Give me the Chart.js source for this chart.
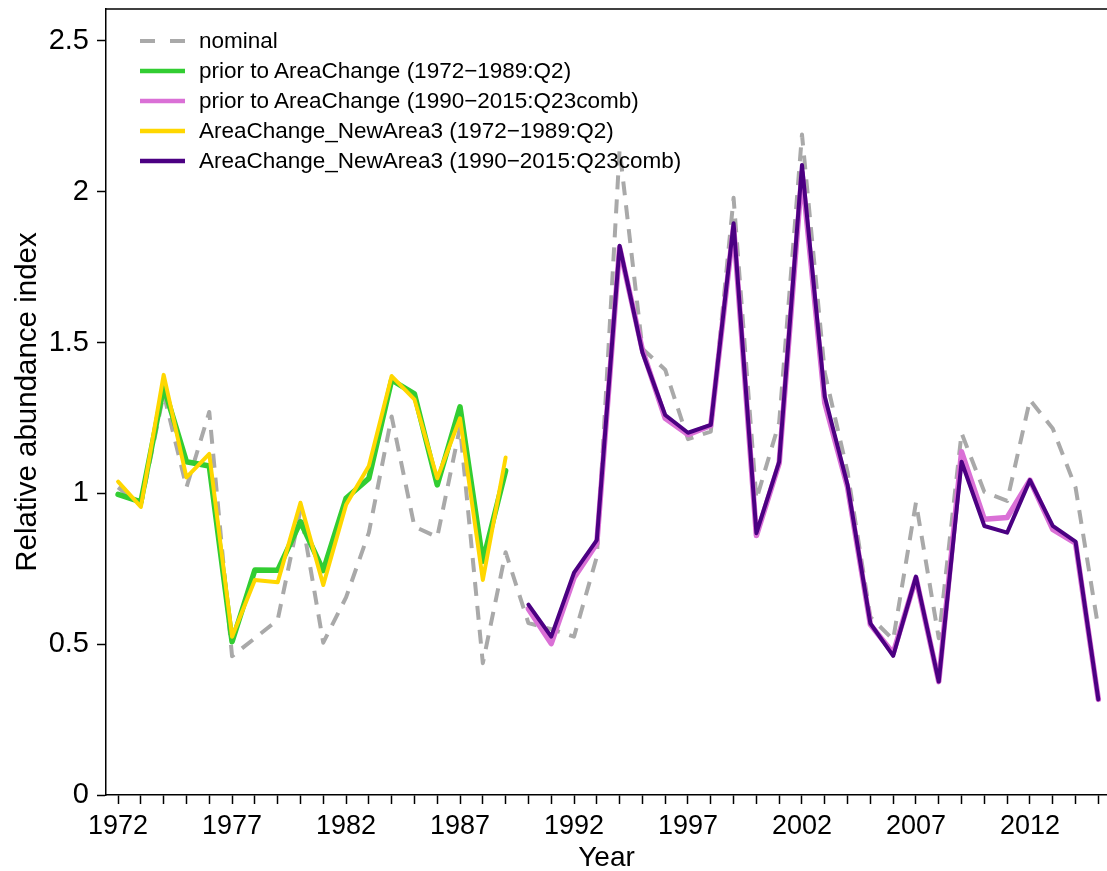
<!DOCTYPE html>
<html>
<head>
<meta charset="utf-8">
<script src="https://cdn.jsdelivr.net/npm/chart.js@4/dist/chart.umd.min.js"></script>
<style>
  html, body { margin: 0; padding: 0; background: #fff; overflow: hidden; }
  #wrap { position: relative; width: 1107px; height: 871px; overflow: hidden; }
  #legend { position: absolute; left: 138px; top: 26px; font-family: 'Liberation Sans', Arial, Helvetica, sans-serif; font-size: 22.5px; color: #000; }
  .row { position: absolute; left: 0; height: 30px; white-space: nowrap; }
  .row svg { position: absolute; left: 0; top: 0; }
  .row span { position: absolute; left: 61px; top: 1px; line-height: 28px; }
</style>
</head>
<body>
<div id="wrap">
  <canvas id="c" width="1107" height="871"></canvas>
  <div id="legend"></div>
</div>
<script>
// ---- data ----
const YEARS = [1972,1973,1974,1975,1976,1977,1978,1979,1980,1981,1982,1983,1984,1985,1986,1987,1988,1989,
               1990,1991,1992,1993,1994,1995,1996,1997,1998,1999,2000,2001,2002,2003,2004,2005,2006,2007,2008,2009,2010,2011,2012,2013,2014,2015];
const YEARS_EARLY = YEARS.slice(0, 18);   // 1972-1989
const YEARS_LATE = YEARS.slice(18);       // 1990-2015

const nominal = [1.02,0.96,1.33,1.02,1.27,0.46,0.52,0.58,0.945,0.505,0.655,0.87,1.255,0.89,0.855,1.22,0.437,0.805,
                 0.57,0.55,0.525,0.79,2.14,1.48,1.41,1.18,1.205,1.98,0.98,1.235,2.19,1.40,1.07,0.59,0.515,0.97,0.52,1.20,1.005,0.975,1.31,1.215,1.02,0.553];
const priorEarly = [0.997,0.972,1.354,1.105,1.091,0.508,0.746,0.745,0.906,0.744,0.984,1.05,1.376,1.33,1.028,1.287,0.775,1.075];
const priorLate = [0.617,0.502,0.72,0.834,1.815,1.475,1.249,1.195,1.225,1.885,0.86,1.10,2.065,1.30,1.02,0.565,0.47,0.72,0.376,1.138,0.914,0.92,1.044,0.881,0.835,0.317];
const newEarly = [1.039,0.955,1.393,1.053,1.131,0.525,0.713,0.705,0.969,0.696,0.962,1.091,1.389,1.312,1.05,1.249,0.713,1.119];
const newLate = [0.631,0.525,0.737,0.845,1.821,1.467,1.26,1.201,1.227,1.896,0.868,1.105,2.089,1.321,1.028,0.569,0.461,0.724,0.376,1.105,0.892,0.870,1.044,0.892,0.840,0.317];

const X_TICKS = YEARS;
const X_LABELS = [1972,1977,1982,1987,1992,1997,2002,2007,2012];
const Y_TICKS = [0,0.5,1,1.5,2,2.5];

const LABELS = ['nominal',
  'prior to AreaChange (1972\u22121989:Q2)',
  'prior to AreaChange (1990\u22122015:Q23comb)',
  'AreaChange_NewArea3 (1972\u22121989:Q2)',
  'AreaChange_NewArea3 (1990\u22122015:Q23comb)'];

const FONT = "'Liberation Sans', Arial, Helvetica, sans-serif";
const pts = (xs, ys) => xs.map((x, i) => ({x: x, y: ys[i]}));

const datasets = [
  {label: LABELS[0], data: pts(YEARS, nominal), borderColor: '#A9A9A9', borderWidth: 4, borderDash: [14, 10], borderCapStyle: 'butt', order: 5},
  {label: LABELS[1], data: pts(YEARS_EARLY, priorEarly), borderColor: '#32CD32', borderWidth: 5.5, order: 4},
  {label: LABELS[2], data: pts(YEARS_LATE, priorLate), borderColor: '#DA70D6', borderWidth: 5.5, order: 3},
  {label: LABELS[3], data: pts(YEARS_EARLY, newEarly), borderColor: '#FFD700', borderWidth: 4, order: 2},
  {label: LABELS[4], data: pts(YEARS_LATE, newLate), borderColor: '#4B0082', borderWidth: 4, order: 1}
];
datasets.forEach(d => { d.pointRadius = 0; d.tension = 0; d.fill = false; d.borderJoinStyle = 'round'; if (!d.borderDash) d.borderCapStyle = 'round'; });

const frame = {
  id: 'frame',
  afterDraw(chart) {
    const {ctx, chartArea: a} = chart;
    ctx.save();
    ctx.strokeStyle = '#000';
    ctx.lineWidth = 1.5;
    ctx.beginPath();
    ctx.moveTo(a.left, a.top);
    ctx.lineTo(a.right + 5, a.top);
    ctx.stroke();
    ctx.restore();
  }
};

Chart.defaults.color = '#000';
const chart = new Chart(document.getElementById('c'), {
  type: 'line',
  data: {datasets: datasets},
  plugins: [frame],
  options: {
    responsive: false,
    animation: false,
    devicePixelRatio: 1,
    layout: {padding: {left: 0, right: 0, top: 9, bottom: 0}},
    plugins: {legend: {display: false}, tooltip: {enabled: false}},
    scales: {
      x: {
        type: 'linear', min: 1971.47, max: 2015.38,
        afterBuildTicks: s => { s.ticks = X_TICKS.map(v => ({value: v})); },
        afterFit: s => { s.height = 76; s.paddingLeft = 0; s.paddingRight = 0; },
        ticks: {autoSkip: false, maxRotation: 0, padding: 6, color: '#000',
                font: {size: 27, family: FONT},
                callback: v => X_LABELS.includes(v) ? String(v) : ''},
        grid: {drawOnChartArea: false, drawTicks: true, tickLength: 9, tickColor: '#000', tickWidth: 1.5},
        border: {color: '#000', width: 1.5},
        title: {display: true, text: 'Year', color: '#000', font: {size: 28, family: FONT}, padding: {top: 0, bottom: -4}}
      },
      y: {
        min: 0, max: 2.606,
        afterBuildTicks: s => { s.ticks = Y_TICKS.map(v => ({value: v})); },
        afterFit: s => { s.width = 106; s.paddingTop = 0; s.paddingBottom = 0; },
        ticks: {padding: 8, color: '#000', font: {size: 29, family: FONT}, callback: v => String(v)},
        grid: {drawOnChartArea: false, drawTicks: true, tickLength: 9, tickColor: '#000', tickWidth: 1.5},
        border: {color: '#000', width: 1.5},
        title: {display: true, text: 'Relative abundance index', color: '#000', font: {size: 29.5, family: FONT}, padding: {top: 10, bottom: 0}}
      }
    }
  }
});

// HTML legend built from the datasets
const leg = document.getElementById('legend');
datasets.forEach((d, i) => {
  const row = document.createElement('div');
  row.className = 'row';
  row.style.top = (i * 30) + 'px';
  const dash = d.borderDash ? `stroke-dasharray="15 15"` : '';
  row.innerHTML = `<svg width="50" height="30"><line x1="2" y1="15" x2="47" y2="15" stroke="${d.borderColor}" stroke-width="${d.borderDash ? 4 : 4.5}" ${dash}/></svg><span>${d.label}</span>`;
  leg.appendChild(row);
});
</script>
</body>
</html>
